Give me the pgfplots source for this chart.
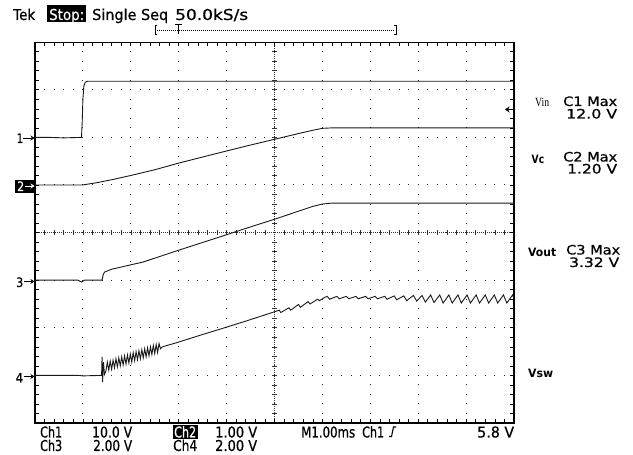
\documentclass[border=0pt]{standalone}
\usepackage{fontspec}
\setmainfont{DejaVu Sans}
\newfontfamily\tek[FakeBold=0.6]{DejaVu Sans}
\newfontfamily\serif{Liberation Serif}
\usepackage{pgfplots}
\pgfplotsset{compat=1.18}
\usetikzlibrary{arrows.meta}
% squeeze/stretch a piece of text to a measured width
\newcommand{\W}[2]{\resizebox{#1}{\height}{#2}}
\tikzset{
  trace/.style={black!90, line width=0.9pt, mark=none},
  tl/.style={anchor=base west, inner sep=0pt},
  big/.style={tl, font=\fontsize{15pt}{15pt}\tek},
  mid/.style={tl, font=\fontsize{13pt}{13pt}\tek},
  small/.style={tl, font=\fontsize{13pt}{13pt}\tek},
  lbl/.style={tl, font=\fontsize{11.5pt}{11.5pt}\selectfont\bfseries},
}
\begin{document}
\begin{tikzpicture}
\path (0pt,0pt) rectangle (633pt,455pt);

% centre cross of the graticule
\begin{axis}[
  at={(35pt,32pt)}, anchor=south west,
  x=47.9pt, y=47.6pt,
  xmin=-5, xmax=5, ymin=-4, ymax=4,
  axis lines=middle,
  axis line style={-, black!80, line width=0.9pt, dash pattern=on 1pt off 1pt},
  xtick={-5,-4.8,...,5}, ytick={-4,-3.8,...,4},
  xticklabels={}, yticklabels={},
  tick align=center, major tick length=4.5pt,
  tick style={black!80, line width=0.6pt},
]
\end{axis}

% graticule and traces, in divisions
\begin{axis}[
  at={(35pt,32pt)}, anchor=south west,
  x=47.9pt, y=47.6pt,
  xmin=0, xmax=10, ymin=0, ymax=8,
  xtick={0,...,10}, ytick={0,...,8},
  minor x tick num=4, minor y tick num=4,
  xticklabels={}, yticklabels={},
  tick align=inside, major tick length=4pt, minor tick length=4pt,
  tick style={black, line width=0.6pt},
  grid=major,
  major x grid style={black!85, line width=1pt, dash pattern=on 1pt off 8.52pt, dash phase=0.5pt},
  major y grid style={black!85, line width=1pt, dash pattern=on 1pt off 8.58pt, dash phase=0.5pt},
  axis line style={line width=1.3pt},
  clip=false,
]
% Ch1 Vin
\addplot[trace] coordinates {(0,6.0) (0.3,6.0) (0.6,5.99) (0.97,6.0) (0.985,6.3) (1.0,6.8) (1.02,7.08) (1.05,7.16) (1.1,7.18) (6,7.18) (10,7.18)};
% Ch2 Vc
\addplot[trace] coordinates {(0,5.0) (0.99,5.0) (1.3,5.05) (1.6,5.11) (2.0,5.2) (2.5,5.32) (3.0,5.46) (3.86,5.68) (4.5,5.84) (5.0,5.96) (5.5,6.08) (5.8,6.15) (6.0,6.19) (6.2,6.2) (10,6.2)};
% Ch3 Vout
\addplot[trace] coordinates {(0,3.0) (0.9,3.0) (0.97,2.96) (1.03,3.0) (1.40,3.0) (1.42,3.1) (1.45,3.17) (1.6,3.23) (1.9,3.3) (2.25,3.38) (3.0,3.63) (3.86,3.91) (4.5,4.12) (5.0,4.28) (5.5,4.45) (5.8,4.55) (6.0,4.6) (6.2,4.62) (10,4.62)};
% Ch4 Vsw
\addplot[trace] coordinates {(0,1.0) (0.9,1.0) (1.0,0.99) (1.39,1.0) (1.40,1.39) (1.41,0.86) (1.43,1.28) (1.45,1.02)
 (1.48,1.09) (1.51,1.28) (1.54,1.11) (1.57,1.30) (1.60,1.13) (1.63,1.32) (1.66,1.16) (1.69,1.35) (1.72,1.18) (1.75,1.37)
 (1.78,1.20) (1.81,1.39) (1.84,1.22) (1.87,1.41) (1.90,1.24) (1.93,1.43) (1.96,1.26) (1.99,1.45) (2.02,1.28) (2.05,1.48)
 (2.08,1.31) (2.11,1.50) (2.14,1.33) (2.17,1.52) (2.20,1.35) (2.23,1.54) (2.26,1.37) (2.29,1.56) (2.32,1.39) (2.35,1.58)
 (2.38,1.41) (2.41,1.60) (2.44,1.44) (2.47,1.63) (2.50,1.46) (2.53,1.65) (2.56,1.48) (2.59,1.67) (2.62,1.56) (2.66,1.60)
 (3.0,1.70) (3.5,1.86) (3.86,1.97) (4.4,2.14) (4.95,2.32) (5.1,2.37) (5.13,2.32) (5.3,2.42) (5.34,2.37) (5.5,2.49)
 (5.54,2.43) (5.7,2.55) (5.74,2.5) (5.9,2.6) (5.94,2.57) (6.05,2.64)
 (6.1,2.66) (6.15,2.6) (6.3,2.66) (6.35,2.61) (6.5,2.66) (6.55,2.61) (6.7,2.66) (6.75,2.61) (6.9,2.66) (6.95,2.61)
 (7.1,2.66) (7.15,2.61) (7.3,2.66) (7.35,2.6) (7.5,2.67) (7.55,2.59) (7.7,2.67) (7.76,2.57) (7.9,2.68) (7.97,2.56)
 (8.08,2.68) (8.15,2.54) (8.26,2.69) (8.33,2.53) (8.45,2.69) (8.52,2.52) (8.64,2.69) (8.71,2.52) (8.83,2.69) (8.9,2.52)
 (9.02,2.69) (9.09,2.52) (9.21,2.69) (9.28,2.52) (9.4,2.69) (9.47,2.52) (9.59,2.69) (9.66,2.52) (9.78,2.69) (9.85,2.52)
 (9.97,2.69) (10,2.62)};
\end{axis}

% screen annotations, in pixels from the top left
\begin{scope}[shift={(0pt,455pt)}, x=1pt, y=-1pt]
  % status line
  \node[big] at (13,20) {\W{22pt}{Tek}};
  \fill (47,5.5) rectangle (86,22);
  \node[big, text=white] at (49,20) {\W{35pt}{Stop:}};
  \node[big] at (92,20) {\W{76pt}{Single Seq}};
  \node[big] at (175,20) {\W{73pt}{50.0kS/s}};
  % record bracket
  \draw[line width=0.9pt] (157,25) -- (155,25) -- (155,34.5) -- (157,34.5);
  \draw[line width=0.9pt] (394,25) -- (396,25) -- (396,34.5) -- (394,34.5);
  \draw[line width=0.8pt, dash pattern=on 1pt off 1pt] (157,30) -- (394,30);
  \draw[line width=1pt] (175,25) -- (181.5,25) (178.2,25) -- (178.2,34);

  % channel ground markers
  \node[mid] at (16.5,143) {\W{6.5pt}{1}};
  \draw[-{Stealth[length=4pt,width=5pt]}, line width=0.8pt] (23,138) -- (34.5,138);
  \fill (14.5,180) rectangle (35,193);
  \node[mid, text=white] at (17,191) {\W{7pt}{2}};
  \draw[white, -{Stealth[length=4pt,width=5pt]}, line width=0.8pt] (25,186) -- (34.5,186);
  \node[mid] at (16,287) {\W{7pt}{3}};
  \draw[-{Stealth[length=4pt,width=5pt]}, line width=0.8pt] (23.5,281.5) -- (34.5,281.5);
  \node[mid] at (15.5,382.5) {\W{7.5pt}{4}};
  \draw[-{Stealth[length=4pt,width=5pt]}, line width=0.8pt] (23.5,376.5) -- (34.5,376.5);

  % trigger level
  \draw[{Stealth[length=4.5pt,width=6pt]}-, line width=0.8pt] (505,109.5) -- (511.5,109.5);

  % measurement readouts
  \node[tl, font=\fontsize{12.5pt}{12.5pt}\serif] at (535,107) {\W{14pt}{Vin}};
  \node[small] at (563,106) {\W{54pt}{C1 Max}};
  \node[small] at (566,118.5) {\W{51pt}{12.0 V}};
  \node[lbl] at (531.5,164) {\W{12.5pt}{Vc}};
  \node[small] at (563,161.5) {\W{54pt}{C2 Max}};
  \node[small] at (567,173.5) {\W{50pt}{1.20 V}};
  \node[lbl] at (528,256.5) {\W{28pt}{Vout}};
  \node[small] at (566,254.5) {\W{54pt}{C3 Max}};
  \node[small] at (569,267) {\W{50pt}{3.32 V}};
  \node[lbl] at (528,377.5) {\W{25pt}{Vsw}};

  % scale readouts
  \node[big] at (40,437.5) {\W{22pt}{Ch1}};
  \node[big] at (92,437.5) {\W{40pt}{10.0 V}};
  \fill (172.5,425) rectangle (197.5,439);
  \node[big, text=white] at (174,437.5) {\W{22pt}{Ch2}};
  \node[big] at (215,437.5) {\W{42pt}{1.00 V}};
  \node[big] at (301,437.5) {\W{54pt}{M1.00ms}};
  \node[big] at (362,437.5) {\W{22pt}{Ch1}};
  \draw[line width=1.1pt] (389,436.5) -- (391.5,436.5) -- (393.5,427) -- (396,427);
  \node[big] at (477,437.5) {\W{37pt}{5.8 V}};
  \node[big] at (40,451) {\W{22pt}{Ch3}};
  \node[big] at (93,451) {\W{39pt}{2.00 V}};
  \node[big] at (173,451) {\W{24pt}{Ch4}};
  \node[big] at (215,451) {\W{42pt}{2.00 V}};
\end{scope}
\end{tikzpicture}
\end{document}
